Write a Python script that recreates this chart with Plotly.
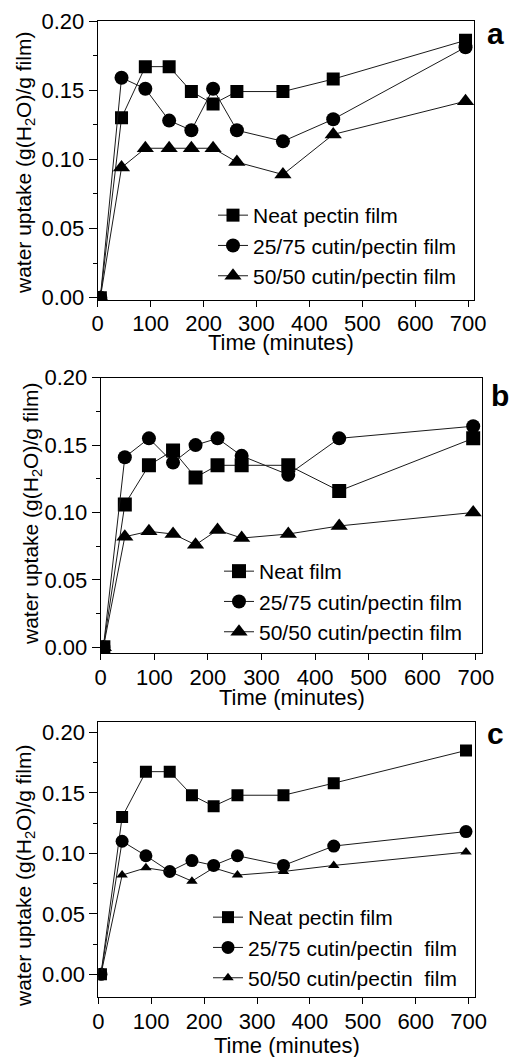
import plotly.graph_objects as go

# ---- data ----
time_min = [5, 45, 90, 135, 177, 218, 263, 350, 445, 695]

a_neat = [0, 0.130, 0.167, 0.167, 0.149, 0.140, 0.149, 0.149, 0.158, 0.186]
a_2575 = [0, 0.159, 0.151, 0.128, 0.121, 0.151, 0.121, 0.113, 0.129, 0.181]
a_5050 = [0, 0.094, 0.108, 0.108, 0.108, 0.108, 0.098, 0.089, 0.118, 0.142]

b_neat = [0, 0.106, 0.135, 0.146, 0.126, 0.135, 0.135, 0.135, 0.116, 0.155]
b_2575 = [0, 0.141, 0.155, 0.137, 0.150, 0.155, 0.142, 0.128, 0.155, 0.164]
b_5050 = [0, 0.082, 0.086, 0.084, 0.076, 0.087, 0.081, 0.084, 0.090, 0.100]

c_neat = [0, 0.130, 0.1675, 0.1675, 0.148, 0.139, 0.148, 0.148, 0.158, 0.185]
c_2575 = [0, 0.110, 0.098, 0.085, 0.094, 0.090, 0.098, 0.090, 0.106, 0.118]
c_5050 = [0, 0.082, 0.088, 0.085, 0.077, 0.088, 0.082, 0.085, 0.090, 0.101]

names_a = ["Neat pectin film", "25/75 cutin/pectin film", "50/50 cutin/pectin film"]
names_b = ["Neat film", "25/75 cutin/pectin film", "50/50 cutin/pectin film"]
names_c = ["Neat pectin film", "25/75 cutin/pectin\u00a0 film", "50/50 cutin/pectin\u00a0 film"]

x_ticks = [0, 100, 200, 300, 400, 500, 600, 700]
y_ticks = [0.00, 0.05, 0.10, 0.15, 0.20]
y_ticklabels = ["0.00", "0.05", "0.10", "0.15", "0.20"]

W, H = 509, 1057
FONT = "Liberation Sans, Arial, sans-serif"

panels = [
    dict(s="", data=[a_neat, a_2575, a_5050], names=names_a, sizes=(13, 14, 15),
         xpx=(97.7, 474), ypx=(21, 300), xr=[0, 711], yr=[-0.0017, 0.2],
         leg=(213, 195), letter=("a", 495, 33), ytitle=(25, 163), xtitle=(281, 342)),
    dict(s="2", data=[b_neat, b_2575, b_5050], names=names_b, sizes=(14, 14, 15),
         xpx=(100.7, 482.3), ypx=(377.7, 653.3), xr=[0, 712], yr=[-0.0045, 0.2],
         leg=(219, 551), letter=("b", 500, 395), ytitle=(32, 514), xtitle=(292, 697)),
    dict(s="3", data=[c_neat, c_2575, c_5050], names=names_c, sizes=(12, 13, 10),
         xpx=(98.3, 475), ypx=(722.3, 997.3), xr=[0, 712], yr=[-0.019, 0.2083],
         leg=(208, 897), letter=("c", 495, 733), ytitle=(25, 876), xtitle=(287, 1045)),
]

symbols = ["square", "circle", "triangle-up"]

fig = go.Figure()
layout = dict(
    width=W, height=H, margin=dict(l=0, r=0, t=0, b=0, autoexpand=False),
    paper_bgcolor="white", plot_bgcolor="white",
    font=dict(family=FONT, size=22, color="black"),
    annotations=[],
)

for p in panels:
    s = p["s"]
    xa = "x" + s
    ya = "y" + s
    legname = "legend" + s
    for series, name, sym, size in zip(p["data"], p["names"], symbols, p["sizes"]):
        fig.add_trace(go.Scatter(
            x=time_min, y=series, name=name, mode="lines+markers",
            xaxis=xa, yaxis=ya, legend=legname,
            line=dict(color="#1a1a1a", width=1),
            marker=dict(symbol=sym, size=size, color="black", line=dict(width=0)),
            cliponaxis=True,
        ))
    x0, x1 = p["xpx"]
    yt, yb = p["ypx"]
    layout["xaxis" + s] = dict(
        domain=[x0 / W, x1 / W], anchor=ya, range=p["xr"], automargin=False,
        tickvals=x_ticks, ticks="outside", ticklen=6, tickwidth=1, tickcolor="black",
        showline=True, linecolor="black", linewidth=1, mirror=True,
        showgrid=False, zeroline=False, tickfont=dict(size=22), ticklabelstandoff=-2,
    )
    layout["yaxis" + s] = dict(
        domain=[(H - yb) / H, (H - yt) / H], anchor=xa, range=p["yr"], automargin=False,
        tickvals=y_ticks, ticktext=y_ticklabels, ticks="outside", ticklen=8,
        tickwidth=1, tickcolor="black",
        minor=dict(ticks="outside", ticklen=4, tickcolor="black", dtick=0.025, tick0=0.025, showgrid=False),
        showline=True, linecolor="black", linewidth=1, mirror=True,
        showgrid=False, zeroline=False, tickfont=dict(size=22),
    )
    lx, ly = p["leg"]
    layout[legname] = dict(
        x=lx / W, y=(H - ly) / H, xanchor="left", yanchor="top",
        bgcolor="rgba(0,0,0,0)", borderwidth=0, font=dict(size=21),
        tracegroupgap=0, itemsizing="trace",
    )
    letter, lxp, lyp = p["letter"]
    layout["annotations"].append(dict(
        text="<b>%s</b>" % letter, x=lxp / W, y=(H - lyp) / H, xref="paper", yref="paper",
        showarrow=False, font=dict(size=30), xanchor="center", yanchor="middle",
    ))
    tx, ty = p["ytitle"]
    layout["annotations"].append(dict(
        text="water uptake (g(H<sub>2</sub>O)/g film)", textangle=-90,
        x=tx / W, y=(H - ty) / H, xref="paper", yref="paper",
        showarrow=False, font=dict(size=21), xanchor="center", yanchor="middle",
    ))
    tx, ty = p["xtitle"]
    layout["annotations"].append(dict(
        text="Time (minutes)", x=tx / W, y=(H - ty) / H, xref="paper", yref="paper",
        showarrow=False, font=dict(size=22), xanchor="center", yanchor="middle",
    ))

fig.update_layout(**layout)
fig.write_html(
    "out.html",
    config={"displayModeBar": False},
    post_script="document.body.style.margin='0';document.body.style.overflow='hidden';",
)
